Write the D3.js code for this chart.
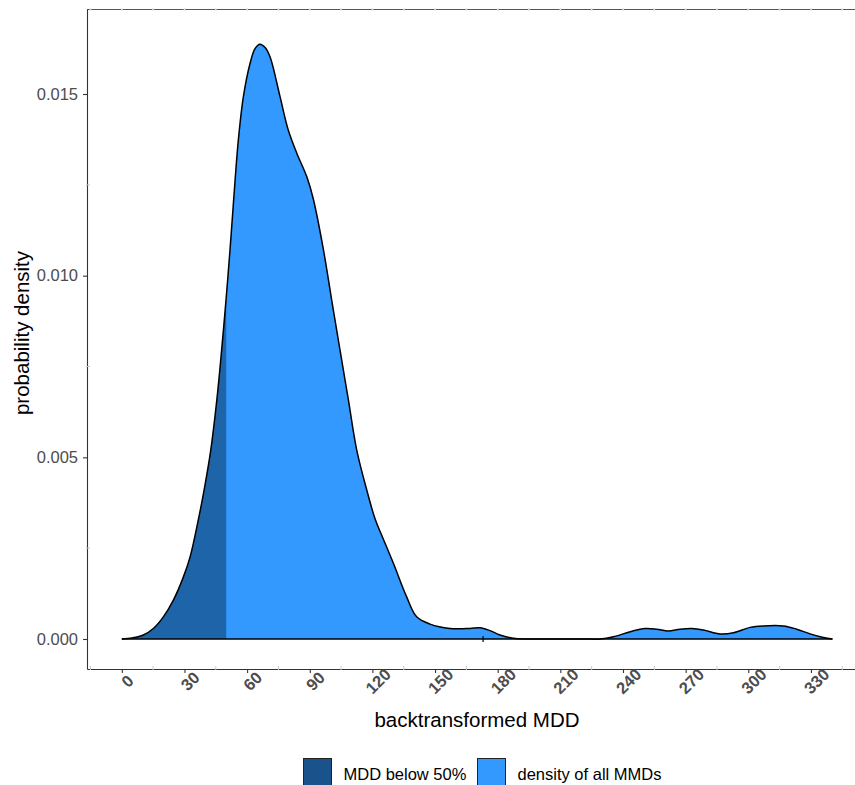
<!DOCTYPE html>
<html><head><meta charset="utf-8">
<script src="https://cdn.jsdelivr.net/npm/d3@7"></script>
<style>body{margin:0;background:#fff} svg{display:block}</style></head>
<body>
<svg id="c" width="855" height="785"></svg>
<script>
// ---- data ----
const mddValues = [0, 5, 10.3, 15.1, 19.9, 24.7, 29.5, 32.7, 36.6, 39.4, 42.6, 45.5, 47.8, 49.9, 51.8, 53.6, 55.8, 58.2, 61.4, 63.8, 66.2, 68.6, 71.0, 75.8, 79.7, 83.8, 88.6, 91.7, 96.5, 100.5, 104.5, 108.5, 112.5, 117.3, 121.3, 124.5, 130.0, 136.4, 141.2, 147.6, 157.1, 166.7, 171.5, 176.3, 181.1, 187.5, 193.9, 202, 212, 222, 229.0, 235.4, 243.4, 250.6, 256.2, 261.7, 267.3, 272.9, 278.5, 286.5, 292.9, 300.9, 307.2, 316.8, 323.2, 329.6, 336.0, 340.3];
const densityValues = [0, 0.00003, 0.00011, 0.00029, 0.00061, 0.00107, 0.00171, 0.00226, 0.00327, 0.00410, 0.00520, 0.00658, 0.00795, 0.00933, 0.01070, 0.01212, 0.01373, 0.01492, 0.01584, 0.01625, 0.01637, 0.01628, 0.01602, 0.01492, 0.01401, 0.01337, 0.01272, 0.01211, 0.01073, 0.00933, 0.00795, 0.00658, 0.00520, 0.00410, 0.00330, 0.00285, 0.00209, 0.00116, 0.00061, 0.00041, 0.00029, 0.00029, 0.00031, 0.00023, 0.00011, 0.00002, 0, 0, 0, 0, 0, 0.00006, 0.00020, 0.00029, 0.00027, 0.00022, 0.00027, 0.00029, 0.00025, 0.00014, 0.00017, 0.00032, 0.00036, 0.00036, 0.00027, 0.00014, 0.00004, 0];
const cutoff = 50;
const xTicks = [0, 30, 60, 90, 120, 150, 180, 210, 240, 270, 300, 330];
const xMinorTicks = [-15, 15, 45, 75, 105, 135, 165, 195, 225, 255, 285, 315, 345];
const yTicks = [0, 0.005, 0.010, 0.015];
const yMinorTicks = [0.0025, 0.0075, 0.0125];
const markers = [173];
const legendLabels = ["MDD below 50%", "density of all MMDs"];
const xTitle = "backtransformed MDD";
const yTitle = "probability density";

// ---- styles ----
const FONT = "'Liberation Sans', Arial, Helvetica, sans-serif";
const lightBlue = "#3399FF", darkBlue = "#1E64A8", darkLegend = "#1A528B";
const axisCol = "#333333";

const svg = d3.select("#c");
const data = mddValues.map((v, i) => ({x: v, y: densityValues[i]}));

const x = d3.scaleLinear().domain([-16.67, 351.1]).range([87, 855]);
const y = d3.scaleLinear().domain([-0.000826, 0.01734]).range([669, 9]);

// top line with small breaks
svg.append("line").attr("x1", 87).attr("x2", 855).attr("y1", 9.5).attr("y2", 9.5)
  .attr("stroke", "#555").attr("stroke-width", 1.1);
const topBreaks = xMinorTicks.concat(xTicks);
svg.append("g").selectAll("rect").data(topBreaks).join("rect")
  .attr("x", d => x(d) - 0.8).attr("y", 8).attr("width", 1.6).attr("height", 3)
  .attr("fill", "#e6e6e6");

// density
const curve = d3.curveCatmullRom.alpha(0.5);
const area = d3.area().x(d => x(d.x)).y0(y(0)).y1(d => Math.min(y(0), y(d.y))).curve(curve);
const line = d3.line().x(d => x(d.x)).y(d => y(d.y)).curve(curve);

svg.append("defs").append("clipPath").attr("id", "below")
  .append("rect").attr("x", 0).attr("y", 0).attr("width", x(cutoff)).attr("height", 785);

svg.append("path").datum(data).attr("d", area).attr("fill", lightBlue);
svg.append("path").datum(data).attr("d", area).attr("fill", darkBlue).attr("clip-path", "url(#below)");
svg.append("line").attr("x1", x(mddValues[0])).attr("x2", x(mddValues[mddValues.length - 1]))
  .attr("y1", y(0)).attr("y2", y(0)).attr("stroke", "#000").attr("stroke-width", 1.4);
svg.append("path").datum(data).attr("d", line).attr("fill", "none")
  .attr("stroke", "#000").attr("stroke-width", 1.5);

// marker
svg.append("g").selectAll("line").data(markers).join("line")
  .attr("x1", d => x(d)).attr("x2", d => x(d)).attr("y1", y(0) - 3).attr("y2", y(0) + 3)
  .attr("stroke", "#000").attr("stroke-width", 1.2);

// x axis
const gx = svg.append("g").attr("transform", "translate(0,669)")
  .call(d3.axisBottom(x).tickValues(xTicks).tickSize(4).tickSizeOuter(0).tickFormat(d3.format("d")));
gx.select(".domain").attr("stroke", axisCol).attr("stroke-width", 1.1);
gx.selectAll(".tick line").attr("stroke", axisCol).attr("stroke-width", 1.1);
gx.selectAll(".tick text")
  .attr("x", 0).attr("y", 0).attr("dy", null)
  .attr("text-anchor", "middle").attr("dominant-baseline", "central")
  .attr("transform", "translate(5,12) rotate(-45)")
  .attr("fill", "#4D4D4D").attr("font-family", FONT).attr("font-size", 16.5).attr("font-weight", "bold");
svg.append("g").selectAll("line").data(xMinorTicks).join("line")
  .attr("x1", d => x(d)).attr("x2", d => x(d)).attr("y1", 666).attr("y2", 670)
  .attr("stroke", "#c8c8c8").attr("stroke-width", 1);

// y axis
const gy = svg.append("g").attr("transform", "translate(87,0)")
  .call(d3.axisLeft(y).tickValues(yTicks).tickSize(4).tickSizeOuter(0).tickPadding(5).tickFormat(d3.format(".3f")));
gy.select(".domain").attr("stroke", axisCol).attr("stroke-width", 1.1);
gy.selectAll(".tick line").attr("stroke", axisCol).attr("stroke-width", 1.1);
gy.selectAll(".tick text").attr("fill", "#4D4D4D").attr("font-family", FONT).attr("font-size", 16.5);
svg.append("g").selectAll("line").data(yMinorTicks).join("line")
  .attr("x1", 86).attr("x2", 90).attr("y1", d => y(d)).attr("y2", d => y(d))
  .attr("stroke", "#c8c8c8").attr("stroke-width", 1);

// titles
svg.append("text").attr("x", 477).attr("y", 719).attr("text-anchor", "middle")
  .attr("dominant-baseline", "central").attr("font-family", FONT).attr("font-size", 20.5)
  .attr("fill", "#000").text(xTitle);
svg.append("text").attr("transform", "translate(21,333) rotate(-90)").attr("text-anchor", "middle")
  .attr("dominant-baseline", "central").attr("font-family", FONT).attr("font-size", 20.5)
  .attr("fill", "#000").text(yTitle);

// legend
const legendFill = [darkLegend, lightBlue];
const legendX = [303.5, 477.5];
const lg = svg.append("g").selectAll("g").data(legendLabels).join("g")
  .attr("transform", (d, i) => `translate(${legendX[i]},758.5)`);
lg.append("rect").attr("width", 28).attr("height", 28).attr("fill", (d, i) => legendFill[i])
  .attr("stroke", "#222").attr("stroke-width", 1);
lg.append("text").attr("x", 40).attr("y", 15.5).attr("dominant-baseline", "central")
  .attr("font-family", FONT).attr("font-size", 16.5).attr("fill", "#000").text(d => d);
</script>
</body></html>
